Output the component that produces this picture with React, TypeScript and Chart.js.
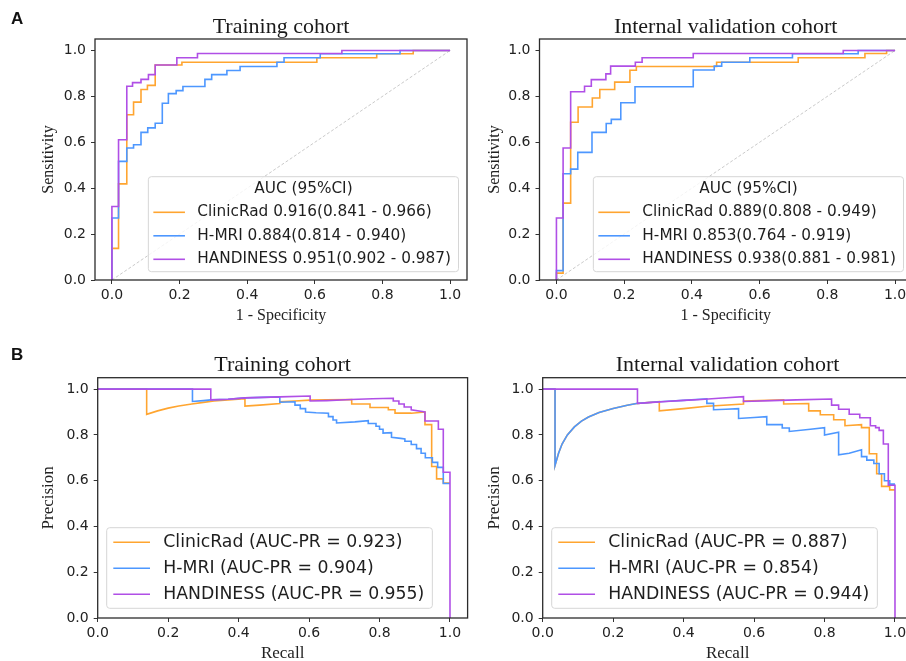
import React, { useEffect, useRef } from "react";
import { Chart, registerables } from "chart.js";

Chart.register(...registerables);

// ---------------- data ----------------
const MODEL_NAMES = ["ClinicRad", "H-MRI", "HANDINESS"];
const MODEL_COLORS = ["#ffa530", "#4d97ff", "#b04fe6"];
const AXIS_TICKS = [0, 0.2, 0.4, 0.6, 0.8, 1.0];
const DIAGONAL: [number, number][] = [[0, 0], [1, 1]];

const ROC_TRAIN_AUC = ["0.916", "0.884", "0.951"];
const ROC_TRAIN_CI = [["0.841", "0.966"], ["0.814", "0.940"], ["0.902", "0.987"]];
const ROC_VALID_AUC = ["0.889", "0.853", "0.938"];
const ROC_VALID_CI = [["0.808", "0.949"], ["0.764", "0.919"], ["0.881", "0.981"]];
const PR_TRAIN_AUC = ["0.923", "0.904", "0.955"];
const PR_VALID_AUC = ["0.887", "0.854", "0.944"];

// ROC curves: [1 - specificity, sensitivity]
const ROC_TRAIN_CLINICRAD: [number, number][] = [
  [0, 0], [0, 0.138], [0.0196, 0.138], [0.0196, 0.419], [0.044, 0.419], [0.044, 0.72],
  [0.064, 0.72], [0.064, 0.775], [0.086, 0.775], [0.086, 0.83], [0.105, 0.83], [0.105, 0.848],
  [0.128, 0.848], [0.128, 0.937], [0.207, 0.937], [0.207, 0.949], [0.606, 0.949], [0.606, 0.968],
  [0.783, 0.968], [0.783, 0.986], [0.891, 0.986], [0.891, 1], [1, 1],
];
const ROC_TRAIN_HMRI: [number, number][] = [
  [0, 0], [0, 0.27], [0.0196, 0.27], [0.0196, 0.517], [0.044, 0.517], [0.044, 0.575],
  [0.064, 0.575], [0.064, 0.589], [0.086, 0.589], [0.086, 0.643], [0.106, 0.643], [0.106, 0.663],
  [0.128, 0.663], [0.128, 0.683], [0.149, 0.683], [0.149, 0.77], [0.167, 0.77], [0.167, 0.812],
  [0.19, 0.812], [0.19, 0.825], [0.21, 0.825], [0.21, 0.843], [0.275, 0.843], [0.275, 0.874],
  [0.295, 0.874], [0.295, 0.895], [0.34, 0.895], [0.34, 0.913], [0.379, 0.913], [0.379, 0.93],
  [0.488, 0.93], [0.488, 0.949], [0.509, 0.949], [0.509, 0.968], [0.616, 0.968], [0.616, 0.986],
  [0.852, 0.986], [0.852, 1], [1, 1],
];
const ROC_TRAIN_HANDINESS: [number, number][] = [
  [0, 0], [0, 0.32], [0.0196, 0.32], [0.0196, 0.611], [0.044, 0.611], [0.044, 0.844],
  [0.061, 0.844], [0.061, 0.86], [0.086, 0.86], [0.086, 0.874], [0.108, 0.874], [0.108, 0.895],
  [0.128, 0.895], [0.128, 0.937], [0.192, 0.937], [0.192, 0.968], [0.253, 0.968], [0.253, 0.987],
  [0.68, 0.987], [0.68, 1], [1, 1],
];
const ROC_VALID_CLINICRAD: [number, number][] = [
  [0, 0], [0, 0.03], [0.0197, 0.03], [0.0197, 0.335], [0.042, 0.335], [0.042, 0.687],
  [0.064, 0.687], [0.064, 0.754], [0.106, 0.754], [0.106, 0.793], [0.128, 0.793], [0.128, 0.83],
  [0.172, 0.83], [0.172, 0.862], [0.217, 0.862], [0.217, 0.914], [0.236, 0.914], [0.236, 0.93],
  [0.473, 0.93], [0.473, 0.949], [0.714, 0.949], [0.714, 0.968], [0.911, 0.968], [0.911, 0.987],
  [0.975, 0.987], [0.975, 1], [1, 1],
];
const ROC_VALID_HMRI: [number, number][] = [
  [0, 0], [0, 0.041], [0.0197, 0.041], [0.0197, 0.463], [0.042, 0.463], [0.042, 0.483],
  [0.063, 0.483], [0.063, 0.556], [0.105, 0.556], [0.105, 0.643], [0.147, 0.643], [0.147, 0.682],
  [0.162, 0.682], [0.162, 0.7], [0.19, 0.7], [0.19, 0.772], [0.232, 0.772], [0.232, 0.842],
  [0.404, 0.842], [0.404, 0.915], [0.466, 0.915], [0.466, 0.932], [0.488, 0.932], [0.488, 0.949],
  [0.571, 0.949], [0.571, 0.968], [0.697, 0.968], [0.697, 0.986], [0.891, 0.986], [0.891, 1], [1, 1],
];
const ROC_VALID_HANDINESS: [number, number][] = [
  [0, 0], [0, 0.27], [0.0197, 0.27], [0.0197, 0.575], [0.042, 0.575], [0.042, 0.82],
  [0.083, 0.82], [0.083, 0.844], [0.103, 0.844], [0.103, 0.873], [0.146, 0.873], [0.146, 0.898],
  [0.16, 0.898], [0.16, 0.932], [0.233, 0.932], [0.233, 0.949], [0.253, 0.949], [0.253, 0.968],
  [0.404, 0.968], [0.404, 0.987], [0.847, 0.987], [0.847, 1], [1, 1],
];

// PR curves: [recall, precision]
const PR_TRAIN_CLINICRAD: [number, number][] = [
  [0, 1], [0.139, 1], [0.139, 0.89], [0.17, 0.905], [0.2, 0.917], [0.23, 0.926], [0.267, 0.935],
  [0.3, 0.942], [0.33, 0.948], [0.37, 0.953], [0.418, 0.958], [0.418, 0.926], [0.46, 0.93],
  [0.517, 0.937], [0.517, 0.945], [0.56, 0.948], [0.603, 0.952], [0.65, 0.953], [0.721, 0.955],
  [0.721, 0.935], [0.773, 0.935], [0.773, 0.92], [0.825, 0.92], [0.825, 0.91], [0.844, 0.91],
  [0.844, 0.895], [0.89, 0.895], [0.929, 0.9], [0.929, 0.845], [0.948, 0.845], [0.948, 0.662],
  [0.962, 0.662], [0.962, 0.608], [0.981, 0.608], [0.981, 0.59], [1, 0.59],
];
const PR_TRAIN_HMRI: [number, number][] = [
  [0, 1], [0.269, 1], [0.269, 0.946], [0.3, 0.95], [0.321, 0.953], [0.37, 0.956], [0.418, 0.962],
  [0.517, 0.966], [0.517, 0.943], [0.56, 0.945], [0.56, 0.93], [0.575, 0.93], [0.575, 0.915],
  [0.59, 0.915], [0.59, 0.9], [0.62, 0.897], [0.655, 0.895], [0.655, 0.88], [0.668, 0.88],
  [0.668, 0.865], [0.678, 0.865], [0.678, 0.852], [0.73, 0.857], [0.768, 0.862], [0.768, 0.85],
  [0.79, 0.85], [0.79, 0.838], [0.8, 0.838], [0.8, 0.825], [0.81, 0.825], [0.81, 0.808],
  [0.834, 0.81], [0.834, 0.79], [0.86, 0.785], [0.872, 0.782], [0.872, 0.772], [0.89, 0.772],
  [0.89, 0.758], [0.905, 0.758], [0.905, 0.74], [0.918, 0.74], [0.918, 0.72], [0.93, 0.72],
  [0.93, 0.7], [0.95, 0.7], [0.95, 0.68], [0.965, 0.68], [0.965, 0.658], [0.981, 0.658],
  [0.981, 0.588], [1, 0.588],
];
const PR_TRAIN_HANDINESS: [number, number][] = [
  [0, 1], [0.321, 1], [0.321, 0.953], [0.37, 0.956], [0.418, 0.962], [0.517, 0.966], [0.603, 0.97],
  [0.603, 0.948], [0.65, 0.95], [0.72, 0.955], [0.78, 0.958], [0.839, 0.96], [0.839, 0.948],
  [0.855, 0.948], [0.855, 0.935], [0.87, 0.935], [0.87, 0.922], [0.89, 0.922], [0.89, 0.91],
  [0.929, 0.9], [0.929, 0.861], [0.967, 0.861], [0.967, 0.825], [0.981, 0.825], [0.981, 0.637],
  [1, 0.637], [1, 0],
];
const PR_VALID_CLINICRAD: [number, number][] = [
  [0, 1], [0.035, 1], [0.035, 0.667], [0.045, 0.72], [0.055, 0.76], [0.07, 0.8], [0.09, 0.835],
  [0.11, 0.86], [0.13, 0.878], [0.16, 0.898], [0.2, 0.915], [0.24, 0.93], [0.27, 0.938],
  [0.331, 0.945], [0.331, 0.905], [0.4, 0.915], [0.466, 0.925], [0.57, 0.935], [0.57, 0.948],
  [0.684, 0.953], [0.684, 0.935], [0.755, 0.937], [0.755, 0.905], [0.788, 0.905], [0.788, 0.888],
  [0.826, 0.888], [0.826, 0.866], [0.858, 0.866], [0.858, 0.84], [0.905, 0.845], [0.905, 0.832],
  [0.927, 0.832], [0.927, 0.718], [0.948, 0.718], [0.948, 0.63], [0.962, 0.63], [0.962, 0.575],
  [0.985, 0.575], [0.985, 0.56], [1, 0.56],
];
const PR_VALID_HMRI: [number, number][] = [
  [0, 1], [0.035, 1], [0.035, 0.667], [0.045, 0.72], [0.055, 0.76], [0.07, 0.8], [0.09, 0.835],
  [0.11, 0.86], [0.13, 0.878], [0.16, 0.898], [0.2, 0.915], [0.24, 0.93], [0.27, 0.938],
  [0.33, 0.945], [0.4, 0.951], [0.466, 0.958], [0.466, 0.938], [0.485, 0.938], [0.485, 0.91],
  [0.52, 0.912], [0.556, 0.915], [0.556, 0.872], [0.6, 0.876], [0.636, 0.88], [0.636, 0.845],
  [0.68, 0.845], [0.68, 0.83], [0.7, 0.83], [0.7, 0.815], [0.76, 0.825], [0.8, 0.832], [0.8, 0.8],
  [0.84, 0.812], [0.84, 0.713], [0.87, 0.72], [0.905, 0.735], [0.905, 0.705], [0.92, 0.705],
  [0.92, 0.69], [0.94, 0.69], [0.94, 0.675], [0.955, 0.675], [0.955, 0.63], [0.97, 0.63],
  [0.97, 0.6], [0.985, 0.6], [0.985, 0.585], [1, 0.585],
];
const PR_VALID_HANDINESS: [number, number][] = [
  [0, 1], [0.269, 1], [0.269, 0.9375], [0.3, 0.941], [0.35, 0.946], [0.4, 0.951], [0.45, 0.955],
  [0.5, 0.96], [0.57, 0.967], [0.57, 0.946], [0.65, 0.95], [0.72, 0.953], [0.82, 0.957],
  [0.82, 0.93], [0.84, 0.93], [0.84, 0.912], [0.87, 0.912], [0.87, 0.89], [0.9, 0.89], [0.9, 0.875],
  [0.93, 0.875], [0.93, 0.84], [0.945, 0.84], [0.945, 0.832], [0.955, 0.832], [0.955, 0.82],
  [0.967, 0.82], [0.967, 0.76], [0.981, 0.76], [0.981, 0.58], [1, 0.58], [1, 0],
];

// ---------------- labels built from data ----------------
const rocLabels = (auc: string[], ci: string[][]) =>
  MODEL_NAMES.map((n, i) => `${n} ${auc[i]}(${ci[i][0]} - ${ci[i][1]})`);
const prLabels = (auc: string[]) => MODEL_NAMES.map((n, i) => `${n} (AUC-PR = ${auc[i]})`);

type Legend = {
  anchor: "left" | "right";
  title?: string;
  labels: string[];
  fontSize: number;
  height: number;
  marginX: number;
  marginB: number;
  titleY: number;
  rowY0: number;
  rowGap: number;
  handle: [number, number];
  textX: number;
  padR: number;
};

type Panel = {
  id: string;
  canvas: { left: number; top: number; width: number; height: number };
  area: { left: number; top: number; right: number; bottom: number };
  xRange: [number, number];
  yRange: [number, number];
  xTitle: string;
  yTitle: string;
  axisTitleSize: number;
  yTitlePad: number;
  xTitlePad: number;
  curves: [number, number][][];
  diagonal: boolean;
  legend: Legend;
};

const rocLegend = (labels: string[]): Legend => ({
  anchor: "right",
  title: "AUC (95%CI)",
  labels,
  fontSize: 15.3,
  height: 95,
  marginX: 8.5,
  marginB: 8.3,
  titleY: 12.6,
  rowY0: 35.6,
  rowGap: 23.5,
  handle: [5, 36.6],
  textX: 49,
  padR: 7.5,
});
const prLegend = (labels: string[]): Legend => ({
  anchor: "left",
  labels,
  fontSize: 17.3,
  height: 80.6,
  marginX: 9,
  marginB: 9.7,
  titleY: 0,
  rowY0: 14.6,
  rowGap: 26,
  handle: [6.6, 43.3],
  textX: 56.6,
  padR: 8,
});

const PANELS: Panel[] = [
  {
    id: "rocTrain",
    canvas: { left: 0, top: 0, width: 470, height: 330 },
    area: { left: 95, top: 39, right: 467, bottom: 280 },
    xRange: [-0.05, 1.05],
    yRange: [0, 1.05],
    xTitle: "1 - Specificity",
    yTitle: "Sensitivity",
    axisTitleSize: 16,
    yTitlePad: 39.4,
    xTitlePad: 4.9,
    curves: [ROC_TRAIN_CLINICRAD, ROC_TRAIN_HMRI, ROC_TRAIN_HANDINESS],
    diagonal: true,
    legend: rocLegend(rocLabels(ROC_TRAIN_AUC, ROC_TRAIN_CI)),
  },
  {
    id: "rocValid",
    canvas: { left: 450, top: 0, width: 470, height: 330 },
    area: { left: 539.5, top: 39, right: 912, bottom: 280 },
    xRange: [-0.05, 1.05],
    yRange: [0, 1.05],
    xTitle: "1 - Specificity",
    yTitle: "Sensitivity",
    axisTitleSize: 16,
    yTitlePad: 34.9,
    xTitlePad: 4.9,
    curves: [ROC_VALID_CLINICRAD, ROC_VALID_HMRI, ROC_VALID_HANDINESS],
    diagonal: true,
    legend: rocLegend(rocLabels(ROC_VALID_AUC, ROC_VALID_CI)),
  },
  {
    id: "prTrain",
    canvas: { left: 0, top: 330, width: 470, height: 341 },
    area: { left: 97.7, top: 377.7, right: 467.6, bottom: 618 },
    xRange: [0, 1.05],
    yRange: [0, 1.05],
    xTitle: "Recall",
    yTitle: "Precision",
    axisTitleSize: 17,
    yTitlePad: 38.8,
    xTitlePad: 6.8,
    curves: [PR_TRAIN_CLINICRAD, PR_TRAIN_HMRI, PR_TRAIN_HANDINESS],
    diagonal: false,
    legend: prLegend(prLabels(PR_TRAIN_AUC)),
  },
  {
    id: "prValid",
    canvas: { left: 450, top: 330, width: 470, height: 341 },
    area: { left: 542.7, top: 377.7, right: 912.6, bottom: 618 },
    xRange: [0, 1.05],
    yRange: [0, 1.05],
    xTitle: "Recall",
    yTitle: "Precision",
    axisTitleSize: 17,
    yTitlePad: 34.3,
    xTitlePad: 6.8,
    curves: [PR_VALID_CLINICRAD, PR_VALID_HMRI, PR_VALID_HANDINESS],
    diagonal: false,
    legend: prLegend(prLabels(PR_VALID_AUC)),
  },
];

const PLOT_TITLES = [
  { text: "Training cohort", center: 281, top: 14.6 },
  { text: "Internal validation cohort", center: 725.7, top: 14.6 },
  { text: "Training cohort", center: 282.6, top: 353 },
  { text: "Internal validation cohort", center: 727.6, top: 353 },
];

function makeOverlay(panel: Panel) {
  return {
    id: "overlay_" + panel.id,
    afterDraw(chart: any) {
      const { ctx, chartArea: a } = chart;
      ctx.save();
      ctx.strokeStyle = "#2b2b2b";
      ctx.lineWidth = 1.3;
      ctx.strokeRect(a.left, a.top, a.right - a.left, a.bottom - a.top);

      const lg = panel.legend;
      ctx.font = `${lg.fontSize}px "DejaVu Sans"`;
      const maxText = Math.max(...lg.labels.map((t) => ctx.measureText(t).width));
      const w = lg.textX + maxText + lg.padR;
      const h = lg.height;
      const x0 = lg.anchor === "right" ? a.right - lg.marginX - w : a.left + lg.marginX;
      const y0 = a.bottom - lg.marginB - h;
      ctx.beginPath();
      if (ctx.roundRect) ctx.roundRect(x0, y0, w, h, 3);
      else ctx.rect(x0, y0, w, h);
      ctx.fillStyle = "rgba(255,255,255,0.8)";
      ctx.fill();
      ctx.strokeStyle = "#d6d6d6";
      ctx.lineWidth = 1;
      ctx.stroke();

      ctx.fillStyle = "#1e1e1e";
      ctx.textBaseline = "middle";
      if (lg.title) {
        ctx.textAlign = "center";
        ctx.fillText(lg.title, x0 + w / 2, y0 + lg.titleY);
      }
      ctx.textAlign = "left";
      lg.labels.forEach((t, i) => {
        const y = y0 + lg.rowY0 + i * lg.rowGap;
        ctx.strokeStyle = MODEL_COLORS[i];
        ctx.lineWidth = 1.6;
        ctx.beginPath();
        ctx.moveTo(x0 + lg.handle[0], y);
        ctx.lineTo(x0 + lg.handle[1], y);
        ctx.stroke();
        ctx.fillText(t, x0 + lg.textX, y);
      });
      ctx.restore();
    },
  };
}

function PanelChart({ panel }: { panel: Panel }) {
  const ref = useRef<HTMLCanvasElement>(null);
  useEffect(() => {
    if (!ref.current) return;
    const c = panel.canvas;
    const a = panel.area;
    const yAxisWidth = a.left - c.left;
    const xAxisHeight = c.top + c.height - a.bottom;
    const tickFont = { family: '"DejaVu Sans"', size: 14 };
    const titleFont = { family: '"Liberation Serif", "Times New Roman", serif', size: panel.axisTitleSize };

    const datasets: any[] = panel.curves.map((pts, i) => ({
      label: MODEL_NAMES[i],
      data: pts.map(([x, y]) => ({ x, y })),
      borderColor: MODEL_COLORS[i],
      backgroundColor: MODEL_COLORS[i],
      borderWidth: 1.6,
      pointRadius: 0,
      fill: false,
      tension: 0,
      order: 3 - i,
    }));
    if (panel.diagonal) {
      datasets.push({
        label: "chance",
        data: DIAGONAL.map(([x, y]) => ({ x, y })),
        borderColor: "#c4c4c4",
        borderWidth: 0.9,
        borderDash: [3, 2],
        pointRadius: 0,
        fill: false,
        order: 10,
      });
    }

    const grid = {
      display: true,
      drawOnChartArea: false,
      drawTicks: true,
      tickLength: 4,
      color: "#333",
      lineWidth: 1,
    };
    const setTicks = (axis: any) => {
      axis.ticks = AXIS_TICKS.map((v) => ({ value: v }));
    };

    const chart = new Chart(ref.current, {
      type: "line",
      data: { datasets },
      options: {
        animation: false,
        responsive: false,
        maintainAspectRatio: false,
        events: [],
        layout: {
          padding: {
            left: 0,
            top: a.top - c.top,
            right: c.left + c.width - a.right,
            bottom: 0,
          },
        },
        plugins: {
          legend: { display: false },
          tooltip: { enabled: false },
          title: { display: false },
        },
        scales: {
          x: {
            type: "linear",
            position: "bottom",
            min: panel.xRange[0],
            max: panel.xRange[1],
            afterBuildTicks: setTicks,
            afterFit: (s: any) => {
              s.height = xAxisHeight;
            },
            ticks: {
              callback: (v: any) => Number(v).toFixed(1),
              font: tickFont,
              color: "#222",
              padding: 3,
              maxRotation: 0,
              autoSkip: false,
            },
            grid,
            border: { display: false },
            title: {
              display: true,
              text: panel.xTitle,
              font: titleFont,
              color: "#222",
              padding: { top: 0, bottom: panel.xTitlePad },
            },
          },
          y: {
            type: "linear",
            position: "left",
            min: panel.yRange[0],
            max: panel.yRange[1],
            afterBuildTicks: setTicks,
            afterFit: (s: any) => {
              s.width = yAxisWidth;
            },
            ticks: {
              callback: (v: any) => Number(v).toFixed(1),
              font: tickFont,
              color: "#222",
              padding: 5,
              autoSkip: false,
            },
            grid,
            border: { display: false },
            title: {
              display: true,
              text: panel.yTitle,
              font: titleFont,
              color: "#222",
              padding: { top: panel.yTitlePad, bottom: 0 },
            },
          },
        },
      } as any,
      plugins: [makeOverlay(panel)],
    });
    return () => chart.destroy();
  }, [panel]);

  const c = panel.canvas;
  return (
    <canvas
      ref={ref}
      width={c.width}
      height={c.height}
      style={{ position: "absolute", left: c.left, top: c.top, width: c.width, height: c.height }}
    />
  );
}

export default function App() {
  const letter = (top: number): React.CSSProperties => ({
    position: "absolute",
    left: 11,
    top,
    fontFamily: '"Liberation Sans", Arial, sans-serif',
    fontWeight: 700,
    fontSize: 17,
    lineHeight: "17px",
    color: "#111",
  });
  return (
    <div
      style={{
        position: "absolute",
        left: 0,
        top: 0,
        width: 906,
        height: 661,
        overflow: "hidden",
        background: "#ffffff",
      }}
    >
      {PANELS.map((p) => (
        <PanelChart key={p.id} panel={p} />
      ))}
      {PLOT_TITLES.map((t, i) => (
        <div
          key={i}
          style={{
            position: "absolute",
            left: t.center - 200,
            width: 400,
            top: t.top,
            textAlign: "center",
            fontFamily: '"Liberation Serif", "Times New Roman", serif',
            fontSize: 22,
            lineHeight: "22px",
            color: "#1a1a1a",
            whiteSpace: "nowrap",
          }}
        >
          {t.text}
        </div>
      ))}
      <div style={letter(9.6)}>A</div>
      <div style={letter(345.6)}>B</div>
    </div>
  );
}
